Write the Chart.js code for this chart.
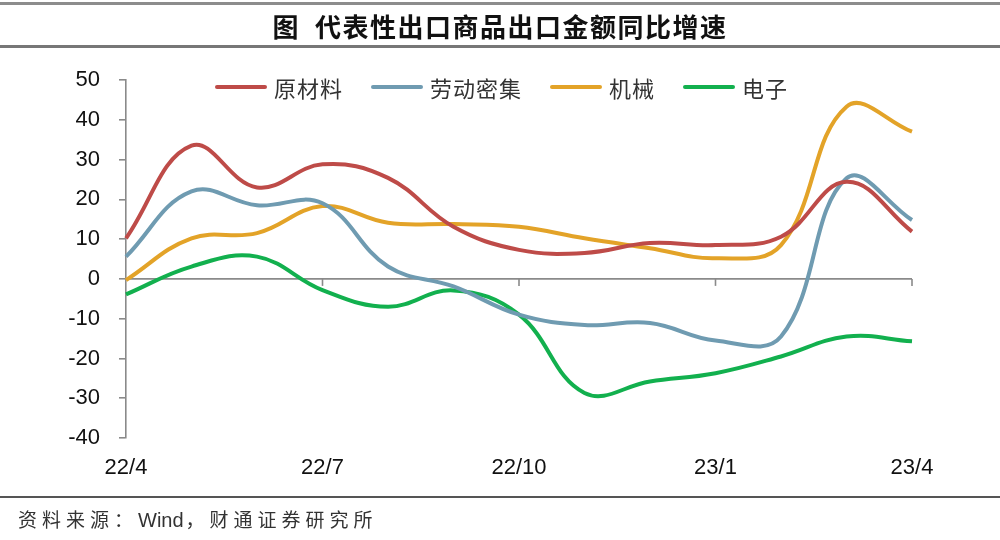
<!DOCTYPE html>
<html><head><meta charset="utf-8">
<script src="https://cdn.jsdelivr.net/npm/chart.js@4"></script>
<style>
body{margin:0;width:1000px;height:540px;position:relative;background:#fff;overflow:hidden}
#c{position:absolute;left:0;top:0}
#topline{position:absolute;left:0;top:2px;width:1000px;height:3px;background:#8c8c8c}
#title{position:absolute;left:0;top:7px;width:1000px;text-align:center;font:bold 26px "Noto Sans CJK SC";color:#111;letter-spacing:1.5px;line-height:38px;white-space:pre}
#tline{position:absolute;left:0;top:45px;width:1000px;height:3px;background:#777}
#fline{position:absolute;left:0;top:496px;width:1000px;height:2px;background:#555}
#footer{position:absolute;left:18px;top:505px;font:19px "Noto Sans CJK SC";color:#333;letter-spacing:5px;line-height:28px}
#footer .en{font-family:"Liberation Sans",Arial,sans-serif;letter-spacing:0;font-size:20px;margin-right:2px}
#legend{position:absolute;left:215px;top:73px;height:28px;display:flex;align-items:center;font:22px "Noto Sans CJK SC";color:#333}
#legend .item{display:flex;align-items:center;margin-right:28px}
#legend .ln{width:52px;height:4px;border-radius:2px;margin-right:7px}
#legend span{letter-spacing:1px}
</style></head>
<body>
<canvas id="c" width="1000" height="540"></canvas>
<div id="topline"></div>
<div id="title">图  代表性出口商品出口金额同比增速</div>
<div id="tline"></div>
<div id="legend"></div>
<div id="fline"></div>
<div id="footer">资料来源：<span class="en">Wind</span>，财通证券研究所</div>
<script>
const months = ['22/4','22/5','22/6','22/7','22/8','22/9','22/10','22/11','22/12','23/1','23/2','23/3','23/4'];
const seriesNames = ['原材料','劳动密集','机械','电子'];
const seriesColors = ['#BE4B48','#6F9BB1','#E3A328','#12B04E'];
const rawMaterials   = [10.2, 33.5, 23.0, 28.8, 25.4, 13.1, 7.3, 6.5, 9.0, 8.5, 10.6, 24.4, 11.9];
const laborIntensive = [5.6, 22.0, 18.5, 19.0, 3.1, -1.9, -9.0, -11.6, -11.1, -15.5, -14.5, 25.3, 14.8];
const machinery      = [-0.3, 10.2, 11.5, 18.3, 14.1, 13.8, 13.1, 10.2, 7.7, 5.2, 8.5, 43.3, 37.0];
const electronics    = [-3.9, 3.1, 5.6, -2.8, -7.0, -2.9, -9.0, -28.7, -25.8, -23.7, -19.5, -14.5, -15.7];
const yTicks = {min:-40, max:50, step:10};
const seriesData = [rawMaterials, laborIntensive, machinery, electronics];

// HTML legend from series arrays
const lg = document.getElementById('legend');
seriesNames.forEach((n,i)=>{
  const it = document.createElement('div'); it.className='item';
  const ln = document.createElement('div'); ln.className='ln'; ln.style.background=seriesColors[i];
  const tx = document.createElement('span'); tx.textContent=n;
  it.appendChild(ln); it.appendChild(tx); lg.appendChild(it);
});

const zeroAxis = {
  id:'zeroAxis',
  beforeDatasetsDraw(chart){
    const {ctx, chartArea, scales} = chart;
    const y0 = scales.y.getPixelForValue(0);
    ctx.save();
    ctx.strokeStyle='#8a8a8a'; ctx.lineWidth=1.6;
    ctx.beginPath(); ctx.moveTo(chartArea.left, y0); ctx.lineTo(chartArea.right, y0); ctx.stroke();
    months.forEach((m,i)=>{
      if(i>0 && i%3===0){
        const x = scales.x.getPixelForValue(i);
        ctx.beginPath(); ctx.moveTo(x, y0); ctx.lineTo(x, y0+7); ctx.stroke();
      }
    });
    ctx.restore();
  }
};

new Chart(document.getElementById('c'), {
  type:'line',
  data:{
    labels: months,
    datasets: seriesNames.map((n,i)=>({
      label:n, data:seriesData[i], borderColor:seriesColors[i], backgroundColor:seriesColors[i],
      borderWidth:4, pointRadius:0, tension:0.4, fill:false, cubicInterpolationMode:'default'
    }))
  },
  options:{
    responsive:false, animation:false, devicePixelRatio:1,
    layout:{padding:{left:0, right:88, top:80, bottom:0}},
    plugins:{legend:{display:false}, tooltip:{enabled:false}, title:{display:false}},
    scales:{
      x:{
        offset:false,
        grid:{display:false, drawTicks:false},
        border:{display:false},
        ticks:{autoSkip:false, maxRotation:0, minRotation:0, padding:17, color:'#111',
          font:{family:'"Liberation Sans", Arial, sans-serif', size:22},
          callback:(v,i)=> i%3===0 ? months[i] : ''},
        afterFit:(s)=>{ s.height = 102; }
      },
      y:{
        min:yTicks.min, max:yTicks.max,
        grid:{display:true, drawOnChartArea:false, drawTicks:true, tickLength:7, color:'#8a8a8a', lineWidth:1.6},
        border:{display:true, color:'#8a8a8a', width:1.6},
        ticks:{stepSize:yTicks.step, padding:19, color:'#111',
          font:{family:'"Liberation Sans", Arial, sans-serif', size:22}},
        afterFit:(s)=>{ s.width = 126; }
      }
    }
  },
  plugins:[zeroAxis]
});
</script>
</body></html>
